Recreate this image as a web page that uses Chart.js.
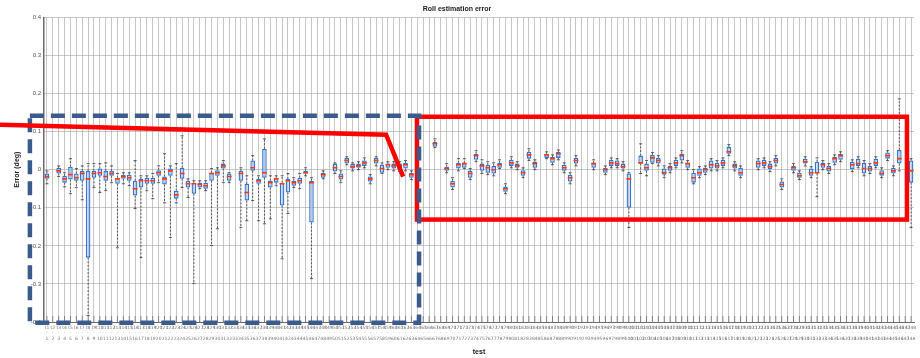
<!DOCTYPE html>
<html>
<head>
<meta charset="utf-8">
<script src="https://cdn.jsdelivr.net/npm/chart.js@4.4.1/dist/chart.umd.min.js"></script>
<style>
  html, body { margin: 0; padding: 0; background: #ffffff; }
  canvas { display: block; }
</style>
</head>
<body>
<canvas id="c" width="920" height="358"></canvas>
<script>
// ---------- data ----------
const categories = [
  "t1","t2","t3","t4","t5","t6","t7","t8","t9","t10",
  "t11","t12","t13","t14","t15","t16","t17","t18","t19","t20",
  "t21","t22","t23","t24","t25","t26","t27","t28","t29","t30",
  "t31","t32","t33","t34","t35","t36","t37","t38","t39","t40",
  "t41","t42","t43","t44","t45","t46","t47","t48","t49","t50",
  "t51","t52","t53","t54","t55","t56","t57","t58","t59","t60",
  "t61","t62","t63","t64","t65","t66","t67","t68","t69","t70",
  "t71","t72","t73","t74","t75","t76","t77","t78","t79","t80",
  "t81","t82","t83","t84","t85","t86","t87","t88","t89","t90",
  "t91","t92","t93","t94","t95","t96","t97","t98","t99","t100",
  "t101","t102","t103","t104","t105","t106","t107","t108","t109","t110",
  "t111","t112","t113","t114","t115","t116","t117","t118","t119","t120",
  "t121","t122","t123","t124","t125","t126","t127","t128","t129","t130",
  "t131","t132","t133","t134","t135","t136","t137","t138","t139","t140",
  "t141","t142","t143","t144","t145","t146","t147","t148"
];

const whiskerLow = [
  -0.037, null, -0.018, -0.045, -0.063, -0.047, -0.079, -0.383, -0.047, -0.060,
  -0.055, -0.034, -0.205, -0.037, -0.042, -0.102, -0.231, -0.055, -0.076, -0.034,
  -0.087, -0.178, -0.087, -0.047, -0.073, -0.299, -0.050, -0.055, -0.199, -0.155,
  -0.034, -0.034, null, -0.152, -0.134, -0.081, -0.134, -0.142, -0.129, -0.042,
  -0.234, -0.115, -0.047, -0.050, -0.016, -0.286, null, -0.024, null, -0.010,
  -0.034, 0.013, -0.003, 0.000, 0.005, -0.037, 0.010, -0.010, 0.000, -0.003,
  -0.005, -0.003, -0.026, null, null, null, 0.058, null, -0.008, -0.052,
  -0.003, 0.003, -0.026, 0.021, -0.010, -0.013, -0.016, 0.003, -0.063, 0.005,
  0.000, -0.021, 0.024, 0.000, null, 0.029, 0.013, 0.026, -0.008, -0.037,
  0.010, null, null, 0.000, null, -0.013, 0.005, 0.005, -0.003, -0.152,
  null, -0.010, -0.016, 0.016, 0.010, -0.021, -0.008, 0.005, 0.018, 0.000,
  -0.037, -0.021, -0.013, -0.003, -0.003, 0.005, 0.037, -0.003, -0.021, null,
  null, 0.000, 0.005, -0.005, 0.010, -0.052, null, -0.008, -0.026, 0.010,
  -0.021, -0.071, 0.000, -0.010, 0.013, 0.021, null, -0.005, 0.005, -0.016,
  -0.010, 0.005, -0.021, 0.024, -0.016, -0.003, null, -0.152
];

const quartile1 = [
  -0.024, null, -0.010, -0.034, -0.026, -0.029, -0.029, -0.231, -0.021, -0.016,
  -0.029, -0.016, -0.037, -0.024, -0.029, -0.068, -0.047, -0.037, -0.037, -0.016,
  -0.039, -0.016, -0.076, -0.024, -0.047, -0.063, -0.047, -0.050, -0.029, -0.016,
  0.003, -0.029, null, -0.029, -0.081, -0.003, -0.037, -0.021, -0.047, -0.034,
  -0.094, -0.060, -0.042, -0.037, -0.010, -0.139, null, -0.021, null, -0.005,
  -0.026, 0.016, 0.003, 0.005, 0.010, -0.031, 0.016, -0.008, 0.005, 0.003,
  0.000, 0.003, -0.021, null, null, null, 0.060, null, -0.003, -0.047,
  0.003, 0.005, -0.021, 0.026, -0.003, -0.008, -0.010, 0.005, -0.058, 0.010,
  0.005, -0.016, 0.029, 0.005, null, 0.031, 0.018, 0.031, -0.003, -0.031,
  0.016, null, null, 0.005, null, -0.008, 0.010, 0.010, 0.003, -0.100,
  null, 0.016, -0.003, 0.018, 0.016, -0.013, -0.003, 0.010, 0.024, 0.005,
  -0.034, -0.016, -0.008, 0.003, 0.003, 0.010, 0.042, 0.003, -0.016, null,
  null, 0.005, 0.010, 0.000, 0.016, -0.047, null, -0.003, -0.021, 0.016,
  -0.016, -0.010, 0.005, -0.005, 0.018, 0.026, null, 0.000, 0.010, -0.010,
  -0.005, 0.010, -0.016, 0.029, -0.010, 0.016, null, -0.034
];

const medians = [
  -0.018, null, -0.003, -0.024, -0.013, -0.021, -0.010, -0.024, -0.010, -0.008,
  -0.018, -0.010, -0.024, -0.018, -0.021, -0.050, -0.029, -0.029, -0.029, -0.008,
  -0.024, -0.003, -0.066, -0.010, -0.037, -0.037, -0.039, -0.042, -0.010, -0.008,
  0.010, -0.018, null, -0.010, -0.060, 0.005, -0.029, -0.008, -0.034, -0.024,
  -0.037, -0.029, -0.034, -0.029, -0.008, -0.034, null, -0.013, null, 0.005,
  -0.018, 0.024, 0.008, 0.010, 0.018, -0.024, 0.024, 0.003, 0.013, 0.010,
  0.008, 0.013, -0.013, null, null, null, 0.068, null, 0.003, -0.037,
  0.013, 0.016, -0.010, 0.037, 0.010, 0.005, 0.000, 0.013, -0.050, 0.018,
  0.010, -0.008, 0.039, 0.016, null, 0.039, 0.029, 0.042, 0.005, -0.021,
  0.024, null, null, 0.016, null, 0.000, 0.018, 0.016, 0.008, -0.024,
  null, 0.018, 0.005, 0.031, 0.024, -0.008, 0.005, 0.018, 0.037, 0.016,
  -0.021, -0.008, 0.000, 0.013, 0.010, 0.018, 0.047, 0.010, -0.008, null,
  null, 0.016, 0.018, 0.008, 0.024, -0.039, null, 0.005, -0.016, 0.021,
  -0.008, -0.008, 0.013, 0.003, 0.029, 0.037, null, 0.013, 0.016, 0.003,
  0.003, 0.018, -0.010, 0.037, -0.003, 0.029, null, -0.003
];

const quartile3 = [
  -0.010, null, 0.005, -0.016, 0.008, -0.010, -0.003, -0.003, -0.003, 0.003,
  -0.003, -0.003, -0.021, -0.013, -0.013, -0.029, -0.024, -0.021, -0.021, 0.000,
  -0.018, 0.003, -0.055, 0.005, -0.029, -0.034, -0.034, -0.034, -0.008, 0.000,
  0.016, -0.010, null, -0.003, -0.037, 0.024, -0.024, 0.055, -0.029, -0.021,
  -0.034, -0.024, -0.029, -0.021, -0.003, -0.029, null, -0.008, null, 0.016,
  -0.010, 0.031, 0.016, 0.016, 0.024, -0.018, 0.031, 0.013, 0.016, 0.016,
  0.016, 0.018, -0.008, null, null, null, 0.073, null, 0.008, -0.029,
  0.018, 0.018, -0.003, 0.042, 0.016, 0.013, 0.010, 0.018, -0.045, 0.026,
  0.016, 0.000, 0.047, 0.021, null, 0.042, 0.034, 0.047, 0.013, -0.013,
  0.031, null, null, 0.018, null, 0.005, 0.026, 0.024, 0.016, -0.010,
  null, 0.037, 0.016, 0.039, 0.031, 0.003, 0.010, 0.026, 0.042, 0.018,
  -0.008, 0.003, 0.005, 0.024, 0.018, 0.026, 0.060, 0.016, 0.005, null,
  null, 0.024, 0.026, 0.016, 0.031, -0.031, null, 0.010, -0.008, 0.029,
  0.003, 0.021, 0.018, 0.010, 0.034, 0.042, null, 0.021, 0.029, 0.018,
  0.010, 0.029, 0.000, 0.045, 0.005, 0.052, null, 0.024
];

const whiskerHigh = [
  -0.003, null, 0.010, -0.008, 0.029, 0.003, 0.010, 0.016, 0.016, 0.016,
  0.018, 0.010, -0.010, -0.008, -0.008, 0.024, -0.016, -0.016, -0.010, 0.010,
  0.042, 0.010, 0.016, 0.089, -0.024, -0.029, -0.029, -0.029, 0.003, 0.005,
  0.024, -0.008, null, 0.005, -0.016, 0.037, -0.016, 0.081, -0.016, -0.016,
  -0.016, -0.010, -0.021, -0.010, 0.005, -0.021, null, -0.003, null, 0.018,
  -0.003, 0.034, 0.018, 0.021, 0.031, -0.013, 0.034, 0.018, 0.021, 0.021,
  0.021, 0.024, -0.003, null, null, null, 0.081, null, 0.016, -0.021,
  0.029, 0.029, 0.003, 0.050, 0.026, 0.021, 0.018, 0.026, -0.037, 0.034,
  0.021, 0.005, 0.055, 0.026, null, 0.047, 0.039, 0.052, 0.018, -0.008,
  0.037, null, null, 0.026, null, 0.010, 0.031, 0.029, 0.021, -0.008,
  null, 0.068, 0.024, 0.045, 0.037, 0.010, 0.016, 0.031, 0.050, 0.024,
  0.000, 0.008, 0.010, 0.029, 0.024, 0.031, 0.066, 0.021, 0.010, null,
  null, 0.029, 0.031, 0.021, 0.037, -0.024, null, 0.016, -0.003, 0.034,
  0.008, 0.031, 0.024, 0.016, 0.039, 0.047, null, 0.026, 0.034, 0.024,
  0.016, 0.034, 0.005, 0.050, 0.010, 0.186, null, 0.029
];

const yTickLabels = ["-0.4", "-0.3", "-0.2", "-0.1", "0", "0.1", "0.2", "0.3", "0.4"];

// ---------- annotation overlay (in category index / value units) ----------
const overlay = {
  redRect:   { x0: 62.95, x1: 146.3, y0: 0.139, y1: -0.131 },
  blueRect:  { x0: -2.9,  x1: 63.3,  y0: 0.142, y1: -0.402 },
  redLine:   [ { x: -8.0, y: 0.118 }, { x: 57.7, y: 0.092 }, { x: 60.6, y: -0.018 } ]
};

const boxExtras = {
  id: 'boxExtras',
  beforeDatasetsDraw(chart) {
    const { ctx, scales: { x, y }, chartArea } = chart;
    ctx.save();
    // inner tick marks along the bottom axis
    ctx.strokeStyle = 'rgba(70,70,70,0.55)';
    ctx.lineWidth = 1;
    for (let i = 0; i < categories.length; i++) {
      const px = x.getPixelForValue(i);
      ctx.beginPath();
      ctx.moveTo(px, chartArea.bottom);
      ctx.lineTo(px, chartArea.bottom - 6);
      ctx.stroke();
    }
    // whiskers
    ctx.strokeStyle = '#3a3a3a';
    ctx.lineWidth = 0.8;
    for (let i = 0; i < categories.length; i++) {
      if (quartile1[i] === null) continue;
      const px = x.getPixelForValue(i);
      ctx.setLineDash([2, 1.6]);
      ctx.beginPath();
      ctx.moveTo(px, y.getPixelForValue(quartile3[i]));
      ctx.lineTo(px, y.getPixelForValue(whiskerHigh[i]));
      ctx.moveTo(px, y.getPixelForValue(quartile1[i]));
      ctx.lineTo(px, y.getPixelForValue(whiskerLow[i]));
      ctx.stroke();
      ctx.setLineDash([]);
      ctx.beginPath();
      const yh = y.getPixelForValue(whiskerHigh[i]);
      const yl = y.getPixelForValue(whiskerLow[i]);
      ctx.moveTo(px - 1.5, yh); ctx.lineTo(px + 1.5, yh);
      ctx.moveTo(px - 1.5, yl); ctx.lineTo(px + 1.5, yl);
      ctx.stroke();
    }
    ctx.restore();
  },
  afterDraw(chart) {
    const { ctx, scales: { x, y } } = chart;
    const X = v => x.getPixelForValue(v);
    const Y = v => y.getPixelForValue(v);
    ctx.save();
    // red rectangle
    const r = overlay.redRect;
    ctx.strokeStyle = '#ff0000';
    ctx.lineWidth = 4.5;
    ctx.lineJoin = 'miter';
    ctx.strokeRect(X(r.x0), Y(r.y0), X(r.x1) - X(r.x0), Y(r.y1) - Y(r.y0));
    // blue dashed rectangle
    const b = overlay.blueRect;
    ctx.strokeStyle = '#3a5b8c';
    ctx.lineWidth = 4.5;
    ctx.setLineDash([14, 7]);
    ctx.strokeRect(X(b.x0), Y(b.y0), X(b.x1) - X(b.x0), Y(b.y1) - Y(b.y0));
    ctx.setLineDash([]);
    // red polyline
    ctx.strokeStyle = '#ff0000';
    ctx.lineWidth = 4.5;
    ctx.beginPath();
    overlay.redLine.forEach((p, k) => {
      if (k === 0) ctx.moveTo(X(p.x), Y(p.y)); else ctx.lineTo(X(p.x), Y(p.y));
    });
    ctx.stroke();
    ctx.restore();
  }
};

new Chart(document.getElementById('c'), {
  data: {
    labels: categories,
    datasets: [
      {
        type: 'line',
        label: 'median',
        data: medians,
        showLine: false,
        pointStyle: 'line',
        pointRadius: 2.4,
        pointHoverRadius: 2.4,
        pointBorderWidth: 1.6,
        borderColor: '#ff3a10',
        backgroundColor: '#ff3a10',
        order: 0
      },
      {
        type: 'bar',
        label: 'box',
        data: quartile1.map((v, i) => v === null ? null : [v, quartile3[i]]),
        backgroundColor: 'rgba(185,200,225,0.55)',
        borderColor: '#2f73d6',
        borderWidth: 1.3,
        borderSkipped: false,
        barPercentage: 0.78,
        categoryPercentage: 1.0,
        order: 1
      }
    ]
  },
  options: {
    responsive: false,
    animation: false,
    events: [],
    layout: { padding: { left: 0, right: 6, top: 0, bottom: 0 } },
    plugins: {
      legend: { display: false },
      tooltip: { enabled: false },
      title: {
        display: true,
        text: 'Roll estimation error',
        color: '#222',
        font: { family: 'Liberation Sans, Arial, sans-serif', size: 7, weight: 'bold' },
        padding: { top: 5, bottom: 4 }
      }
    },
    scales: {
      x: {
        type: 'category',
        offset: true,
        grid: { offset: false, color: 'rgba(130,130,130,0.45)', lineWidth: 1, drawTicks: false },
        border: { display: true, color: '#6a6a6a', width: 1 },
        ticks: {
          autoSkip: false,
          maxRotation: 0,
          minRotation: 0,
          padding: 3,
          color: '#777',
          font: { family: 'DejaVu Sans, sans-serif', size: 4.5 },
          callback: (v, i) => [categories[i], '\u00b7', categories[i].slice(1)]
        },
        title: {
          display: true,
          text: 'test',
          color: '#222',
          font: { family: 'Liberation Sans, Arial, sans-serif', size: 7, weight: 'bold' },
          padding: { top: 0, bottom: 2 }
        },
        afterFit: s => { s.height = 36; }
      },
      y: {
        type: 'linear',
        min: -0.4,
        max: 0.4,
        grid: { color: 'rgba(150,150,150,0.5)', lineWidth: 1, drawTicks: false },
        border: { display: true, color: '#6a6a6a', width: 1.5 },
        ticks: {
          stepSize: 0.1,
          padding: 3,
          color: '#555',
          font: { family: 'Liberation Sans, Arial, sans-serif', size: 6 },
          callback: (v, i) => yTickLabels[i]
        },
        title: {
          display: true,
          text: 'Error (deg)',
          color: '#222',
          font: { family: 'Liberation Sans, Arial, sans-serif', size: 7, weight: 'bold' },
          padding: { top: 13, bottom: 0 }
        },
        afterFit: s => { s.width = 44; }
      }
    }
  },
  plugins: [boxExtras]
});
</script>
</body>
</html>
